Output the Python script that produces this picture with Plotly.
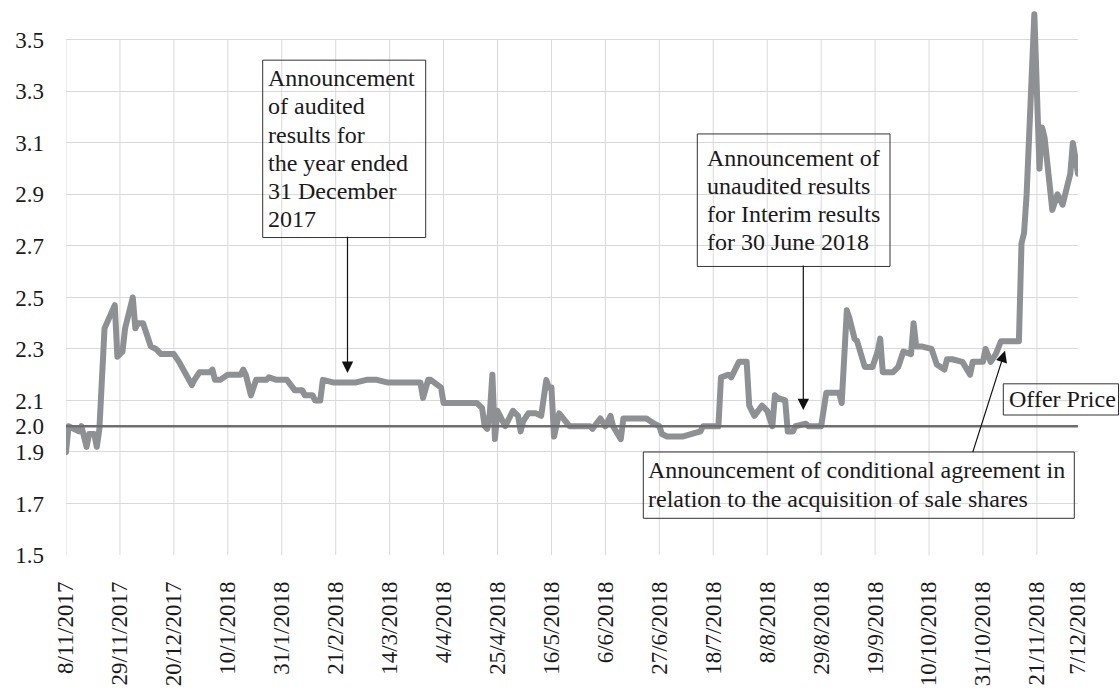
import plotly.graph_objects as go

# ---------------- data ----------------
DATES = [
    "2017-11-08", "2017-11-09", "2017-11-13", "2017-11-14", "2017-11-16", "2017-11-17",
    "2017-11-19", "2017-11-20", "2017-11-21", "2017-11-23", "2017-11-27", "2017-11-28",
    "2017-11-30", "2017-12-01", "2017-12-04", "2017-12-05", "2017-12-06", "2017-12-08",
    "2017-12-11", "2017-12-13", "2017-12-15", "2017-12-20", "2017-12-22", "2017-12-27",
    "2017-12-28", "2017-12-30", "2018-01-03", "2018-01-04", "2018-01-05", "2018-01-07",
    "2018-01-10", "2018-01-15", "2018-01-16", "2018-01-17", "2018-01-19", "2018-01-21",
    "2018-01-25", "2018-01-26", "2018-01-29", "2018-02-02", "2018-02-05", "2018-02-08",
    "2018-02-09", "2018-02-12", "2018-02-13", "2018-02-15", "2018-02-16", "2018-02-20",
    "2018-03-01", "2018-03-05", "2018-03-09", "2018-03-13", "2018-03-23", "2018-03-26",
    "2018-03-27", "2018-03-29", "2018-03-30", "2018-04-03", "2018-04-04", "2018-04-17",
    "2018-04-19", "2018-04-20", "2018-04-21", "2018-04-22", "2018-04-23", "2018-04-24",
    "2018-04-25", "2018-04-27", "2018-04-28", "2018-04-29", "2018-05-01", "2018-05-03",
    "2018-05-04", "2018-05-05", "2018-05-07", "2018-05-10", "2018-05-12", "2018-05-13",
    "2018-05-14", "2018-05-15", "2018-05-16", "2018-05-17", "2018-05-19", "2018-05-23",
    "2018-05-31", "2018-06-01", "2018-06-04", "2018-06-06", "2018-06-08", "2018-06-09",
    "2018-06-12", "2018-06-13", "2018-06-22", "2018-06-25", "2018-06-27", "2018-06-28",
    "2018-06-30", "2018-07-06", "2018-07-09", "2018-07-13", "2018-07-14", "2018-07-20",
    "2018-07-21", "2018-07-24", "2018-07-25", "2018-07-28", "2018-07-31", "2018-08-01",
    "2018-08-03", "2018-08-06", "2018-08-08", "2018-08-10", "2018-08-11", "2018-08-12",
    "2018-08-15", "2018-08-16", "2018-08-18", "2018-08-19", "2018-08-23", "2018-08-24",
    "2018-08-29", "2018-08-31", "2018-09-05", "2018-09-06", "2018-09-08", "2018-09-09",
    "2018-09-11", "2018-09-12", "2018-09-15", "2018-09-18", "2018-09-20", "2018-09-21",
    "2018-09-22", "2018-09-26", "2018-09-28", "2018-09-30", "2018-10-03", "2018-10-04",
    "2018-10-05", "2018-10-07", "2018-10-11", "2018-10-13", "2018-10-16", "2018-10-17",
    "2018-10-19", "2018-10-23", "2018-10-26", "2018-10-27", "2018-10-31", "2018-11-01",
    "2018-11-03", "2018-11-05", "2018-11-07", "2018-11-14", "2018-11-15", "2018-11-16",
    "2018-11-17", "2018-11-20", "2018-11-22", "2018-11-23", "2018-11-24", "2018-11-27",
    "2018-11-29", "2018-12-01", "2018-12-04", "2018-12-05", "2018-12-07",
]

PRICES = [
    1.90, 2.00, 1.98, 2.00, 1.92, 1.97,
    1.97, 1.92, 1.99, 2.38, 2.47, 2.27,
    2.29, 2.38, 2.50, 2.38, 2.40, 2.40,
    2.31, 2.30, 2.28, 2.28, 2.25, 2.16,
    2.18, 2.21, 2.21, 2.22, 2.18, 2.18,
    2.20, 2.20, 2.22, 2.20, 2.12, 2.18,
    2.18, 2.19, 2.18, 2.18, 2.14, 2.14,
    2.12, 2.12, 2.10, 2.10, 2.18, 2.17,
    2.17, 2.18, 2.18, 2.17, 2.17, 2.17,
    2.11, 2.18, 2.18, 2.15, 2.09, 2.09,
    2.07, 2.00, 1.99, 2.05, 2.20, 1.95,
    2.06, 2.02, 2.00, 2.02, 2.06, 2.04,
    1.98, 2.02, 2.05, 2.05, 2.04, 2.11,
    2.18, 2.15, 2.15, 1.96, 2.05, 2.00,
    2.00, 1.99, 2.03, 2.00, 2.04, 2.00,
    1.95, 2.03, 2.03, 2.01, 2.00, 1.97,
    1.96, 1.96, 1.97, 1.98, 2.00, 2.00,
    2.19, 2.20, 2.19, 2.25, 2.25, 2.08,
    2.04, 2.08, 2.06, 2.00, 2.12, 2.11,
    2.10, 1.98, 1.98, 2.00, 2.01, 2.00,
    2.00, 2.13, 2.13, 2.09, 2.45, 2.42,
    2.34, 2.33, 2.23, 2.23, 2.29, 2.34,
    2.21, 2.21, 2.23, 2.29, 2.28, 2.40,
    2.31, 2.31, 2.30, 2.24, 2.22, 2.26,
    2.26, 2.25, 2.20, 2.25, 2.25, 2.30,
    2.25, 2.28, 2.33, 2.33, 2.71, 2.75,
    2.90, 3.60, 3.00, 3.16, 3.12, 2.84,
    2.90, 2.86, 2.98, 3.10, 2.98,
]

OFFER_PRICE = 2.0

TICK_DATES = [
    "2017-11-08", "2017-11-29", "2017-12-20", "2018-01-10", "2018-01-31", "2018-02-21",
    "2018-03-14", "2018-04-04", "2018-04-25", "2018-05-16", "2018-06-06", "2018-06-27",
    "2018-07-18", "2018-08-08", "2018-08-29", "2018-09-19", "2018-10-10", "2018-10-31",
    "2018-11-21", "2018-12-07",
]
TICK_LABELS = [
    "8/11/2017", "29/11/2017", "20/12/2017", "10/1/2018", "31/1/2018", "21/2/2018",
    "14/3/2018", "4/4/2018", "25/4/2018", "16/5/2018", "6/6/2018", "27/6/2018",
    "18/7/2018", "8/8/2018", "29/8/2018", "19/9/2018", "10/10/2018", "31/10/2018",
    "21/11/2018", "7/12/2018",
]
Y_TICKS = [1.5, 1.7, 1.9, 2.0, 2.1, 2.3, 2.5, 2.7, 2.9, 3.1, 3.3, 3.5]

NOTE_AUDITED = ["Announcement", "of audited", "results for", "the year ended",
                "31 December", "2017"]
NOTE_INTERIM = ["Announcement of", "unaudited results", "for Interim results",
                "for 30 June 2018"]
NOTE_AGREEMENT = ["Announcement of conditional agreement in",
                  "relation to the acquisition of sale shares"]
NOTE_OFFER = ["Offer Price"]

# ---------------- layout geometry (pixels) ----------------
W, H = 1120, 695
L, R, T, B = 66, 1078, 9, 564
Y_RANGE = [1.5, 3.62]
FONT = "Liberation Serif, Times New Roman, serif"
TXT = "#1a1a1a"


def px_x(p):
    return (p - L) / (R - L)


def px_y(p):
    return (B - p) / (B - T)


fig = go.Figure()

fig.add_trace(go.Scatter(
    x=DATES, y=PRICES, mode="lines",
    line=dict(color="#8f9094", width=6),
    hoverinfo="skip", showlegend=False,
))
fig.add_trace(go.Scatter(
    x=[DATES[0], DATES[-1]], y=[OFFER_PRICE, OFFER_PRICE], mode="lines",
    line=dict(color="#6e6e6e", width=2.5),
    hoverinfo="skip", showlegend=False,
))

shapes = []
# vertical gridlines (stop at top tick 3.5)
for d in TICK_DATES[:-1]:
    shapes.append(dict(type="line", xref="x", yref="y", x0=d, x1=d,
                       y0=Y_TICKS[0], y1=Y_TICKS[-1],
                       line=dict(color="#d9d9d9", width=1), layer="below"))

annotations = []

# boxes: (left, top, right, bottom, text_x, first_baseline, line_step, lines)
BOXES = [
    (262.7, 61.0, 425.7, 241.3, 268.3, 87.3, 28.7, NOTE_AUDITED),
    (697.3, 136.0, 890.0, 270.7, 706.7, 168.3, 28.7, NOTE_INTERIM),
    (643.3, 459.3, 1074.3, 526.7, 648.3, 486.0, 28.7, NOTE_AGREEMENT),
    (1003.3, 390.0, 1118.5, 421.7, 1009.0, 413.3, 28.7, NOTE_OFFER),
]
for (x0, y0, x1, y1, tx, base, step, lines) in BOXES:
    shapes.append(dict(type="rect", xref="paper", yref="paper",
                       x0=px_x(x0), x1=px_x(x1), y0=px_y(y1), y1=px_y(y0),
                       line=dict(color="#333333", width=1),
                       fillcolor="rgba(0,0,0,0)", layer="above"))
    for i, s in enumerate(lines):
        bl = base + i * step
        annotations.append(dict(
            xref="paper", yref="paper", x=px_x(tx), y=px_y(bl - 8.1),
            xanchor="left", yanchor="middle", text=s, showarrow=False,
            font=dict(family=FONT, size=24, color=TXT),
            borderpad=0, borderwidth=0,
        ))

# arrows: (tail_x, tail_y, tip_x, tip_y)
ARROWS = [
    (347.5, 241.3, 347.5, 379.0),
    (803.3, 270.7, 803.3, 416.7),
    (972.3, 459.3, 1005.0, 356.5),
]
for (ax0, ay0, tx, ty) in ARROWS:
    annotations.append(dict(
        xref="paper", yref="paper", x=px_x(tx), y=px_y(ty),
        ax=ax0 - tx, ay=ay0 - ty, axref="pixel", ayref="pixel",
        text="", showarrow=True, arrowhead=2, arrowsize=1.9, arrowwidth=1.2,
        arrowcolor="#111111", standoff=0, startstandoff=0,
    ))

fig.update_layout(
    width=W, height=H,
    margin=dict(l=L, r=W - R, t=T, b=H - B, pad=0),
    paper_bgcolor="white", plot_bgcolor="white",
    font=dict(family=FONT, size=23, color=TXT),
    xaxis=dict(
        type="date", range=[TICK_DATES[0], TICK_DATES[-1]],
        tickmode="array", tickvals=TICK_DATES, ticktext=TICK_LABELS,
        tickangle=-90, showgrid=False, zeroline=False, showline=False,
        ticks="", ticklabelstandoff=21,
        tickfont=dict(family=FONT, size=23, color=TXT),
    ),
    yaxis=dict(
        range=Y_RANGE, tickmode="array", tickvals=Y_TICKS,
        ticktext=[f"{v:.1f}" for v in Y_TICKS],
        showgrid=True, gridcolor="#d9d9d9", gridwidth=1,
        zeroline=False, showline=False, ticks="", ticklabelstandoff=21,
        tickfont=dict(family=FONT, size=23, color=TXT),
    ),
    shapes=shapes, annotations=annotations,
)

ROUND_JOINS = """
document.querySelectorAll('.scatterlayer path.js-line').forEach(function(p){
  p.style.strokeLinejoin = 'round';
  p.style.strokeLinecap = 'round';
});
"""

fig.write_html("out.html", post_script=ROUND_JOINS)
